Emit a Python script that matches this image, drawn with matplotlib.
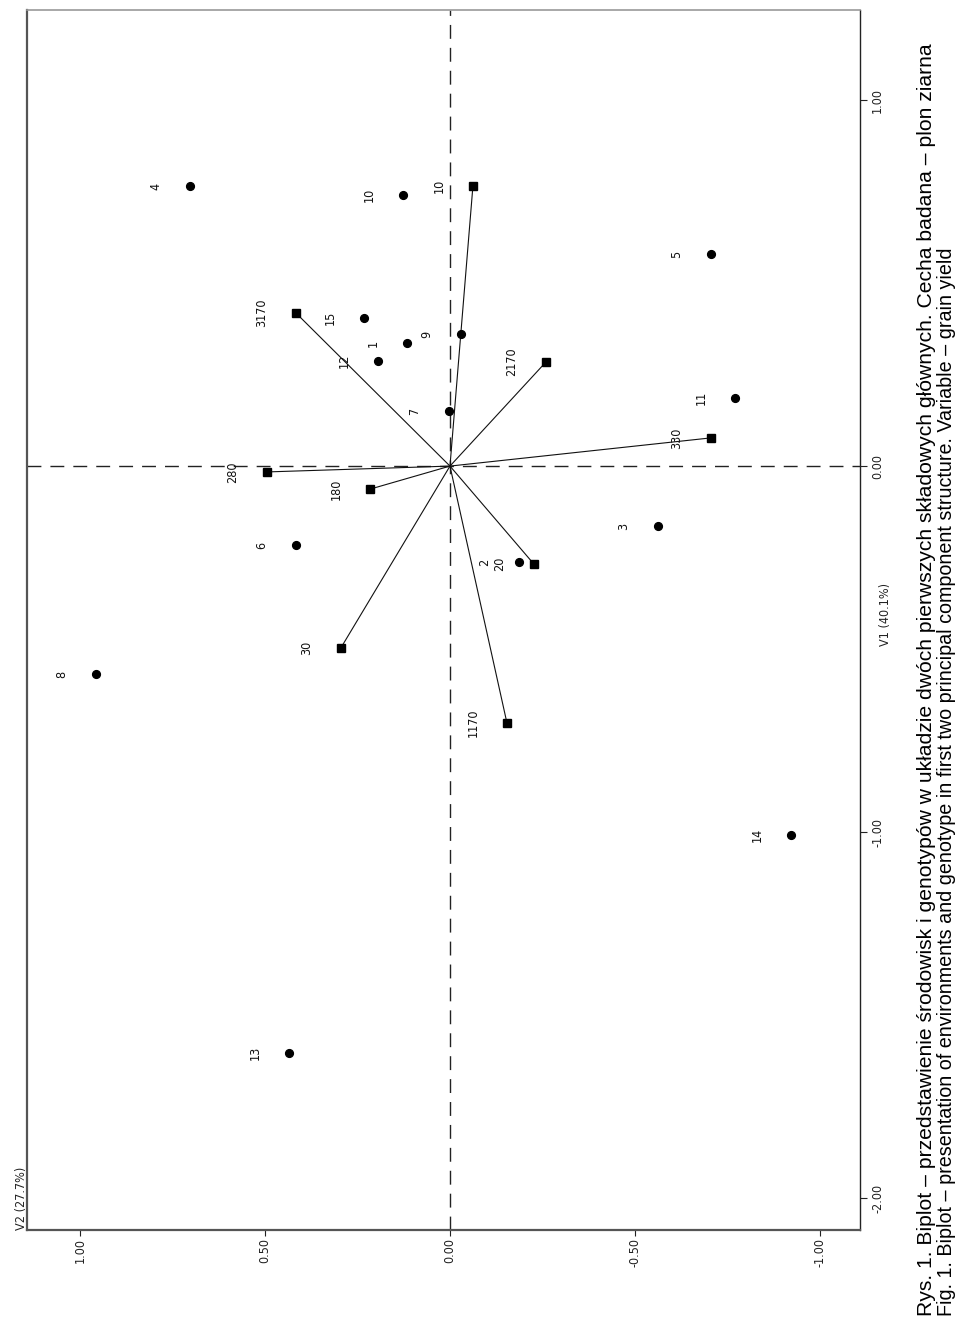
import matplotlib
matplotlib.use("Agg")
import matplotlib.pyplot as plt
from matplotlib import font_manager

# ---- data (V1 = first principal component, V2 = second) ----
geno_labels = ["4", "10", "5", "15", "1", "9", "12", "7", "11", "3", "6", "2", "8", "14", "13"]
geno_v1 = [0.765, 0.740, 0.579, 0.404, 0.336, 0.361, 0.287, 0.150, 0.186, -0.164, -0.216, -0.262, -0.568, -1.008, -1.604]
geno_v2 = [0.703, 0.127, -0.705, 0.232, 0.116, -0.030, 0.195, 0.003, -0.770, -0.562, 0.416, -0.186, 0.957, -0.922, 0.435]

env_labels = ["10", "3170", "2170", "330", "280", "180", "20", "30", "1170"]
env_v1 = [0.765, 0.418, 0.284, 0.077, -0.016, -0.063, -0.268, -0.497, -0.702]
env_v2 = [-0.062, 0.416, -0.259, -0.705, 0.495, 0.216, -0.227, 0.295, -0.154]

v1_ticks = [1.0, 0.0, -1.0, -2.0]
v1_ticklabels = ["1.00", "0.00", "-1.00", "-2.00"]
v2_ticks = [1.0, 0.5, 0.0, -0.5, -1.0]
v2_ticklabels = ["1.00", "0.50", "0.00", "-0.50", "-1.00"]

x_label = "V1 (40.1%)"
y_label = "V2 (27.7%)"
caption_pl = ("Rys. 1. Biplot \u2013 przedstawienie \u015brodowisk i genotyp\u00f3w w uk\u0142adzie dw\u00f3ch "
              "pierwszych sk\u0142adowych g\u0142\u00f3wnych. Cecha badana \u2013 plon ziarna")
caption_en = ("Fig. 1. Biplot \u2013 presentation of environments and genotype in first two principal "
              "component structure. Variable \u2013 grain yield")

W, H = 960, 1323
DPI = 100

names = {f.name for f in font_manager.fontManager.ttflist}
if "Liberation Sans Narrow" in names:
    narrow = dict(family=["Liberation Sans Narrow", "DejaVu Sans"])
else:
    narrow = dict(family=["DejaVu Sans"], fontstretch="condensed")
sans = ["Liberation Sans", "DejaVu Sans"]

fig = plt.figure(figsize=(W / DPI, H / DPI), dpi=DPI)
fig.patch.set_facecolor("white")

# axes placed in pixel coordinates of the rotated page
L, R, T, B = 27, 860, 10, 1230
ax = fig.add_axes([L / W, 1 - B / H, (R - L) / W, (B - T) / H])

# the original chart is rotated 90 deg counter-clockwise:
# V2 runs horizontally (inverted), V1 runs vertically
ax.set_xlim(1.143, -1.108)
ax.set_ylim(-2.087, 1.246)

# reference dashed lines through origin
ax.axhline(0, color="#222222", lw=1.0, ls=(0, (10, 6.5)), zorder=1)
ax.axvline(0, color="#222222", lw=1.0, ls=(0, (10, 6.5)), zorder=1)

# environment vectors
for v1, v2 in zip(env_v1, env_v2):
    ax.plot([0, v2], [0, v1], color="#111111", lw=0.8, zorder=2)
ax.plot(env_v2, env_v1, ls="none", marker="s", ms=6.3, color="black", zorder=3)
ax.plot(geno_v2, geno_v1, ls="none", marker="o", ms=5.6, color="black", zorder=3)

for lab, v1, v2 in zip(env_labels + geno_labels, env_v1 + geno_v1, env_v2 + geno_v2):
    ax.annotate(lab, (v2, v1), xytext=(-34, 0), textcoords="offset pixels",
                rotation=90, ha="center", va="center", fontsize=9,
                color="#111111", zorder=4, **narrow)

# ticks
ax.set_xticks(v2_ticks)
ax.set_xticklabels(v2_ticklabels, rotation=90, fontsize=9, **narrow)
ax.set_yticks(v1_ticks)
ax.set_yticklabels(v1_ticklabels, rotation=90, fontsize=9, va="center", **narrow)
ax.yaxis.tick_right()
ax.tick_params(axis="x", direction="out", length=4, width=0.8, pad=2, colors="#222222")
ax.tick_params(axis="y", direction="out", length=5, width=0.8, pad=3, colors="#222222")

for side, (lw, col) in {"left": (1.6, "#555555"), "bottom": (1.6, "#555555"),
                        "top": (1.2, "#999999"), "right": (1.0, "#222222")}.items():
    ax.spines[side].set_linewidth(lw)
    ax.spines[side].set_color(col)

# axis labels (rotated)
fig.text(21 / W, 1 - 1230 / H, y_label, rotation=90, ha="center", va="bottom",
         fontsize=9, color="#222222", **narrow)
fig.text(886 / W, 1 - 615 / H, x_label, rotation=90, ha="center", va="center",
         fontsize=9, color="#222222", **narrow)

# captions (rotated)
fig.text(926 / W, 1 - 1316 / H, caption_pl, rotation=90, ha="center", va="bottom",
         fontsize=15.2, family=sans, color="black")
fig.text(947 / W, 1 - 1316 / H, caption_en, rotation=90, ha="center", va="bottom",
         fontsize=14.2, family=sans, color="black")

fig.savefig("out.png", dpi=DPI, facecolor="white")
